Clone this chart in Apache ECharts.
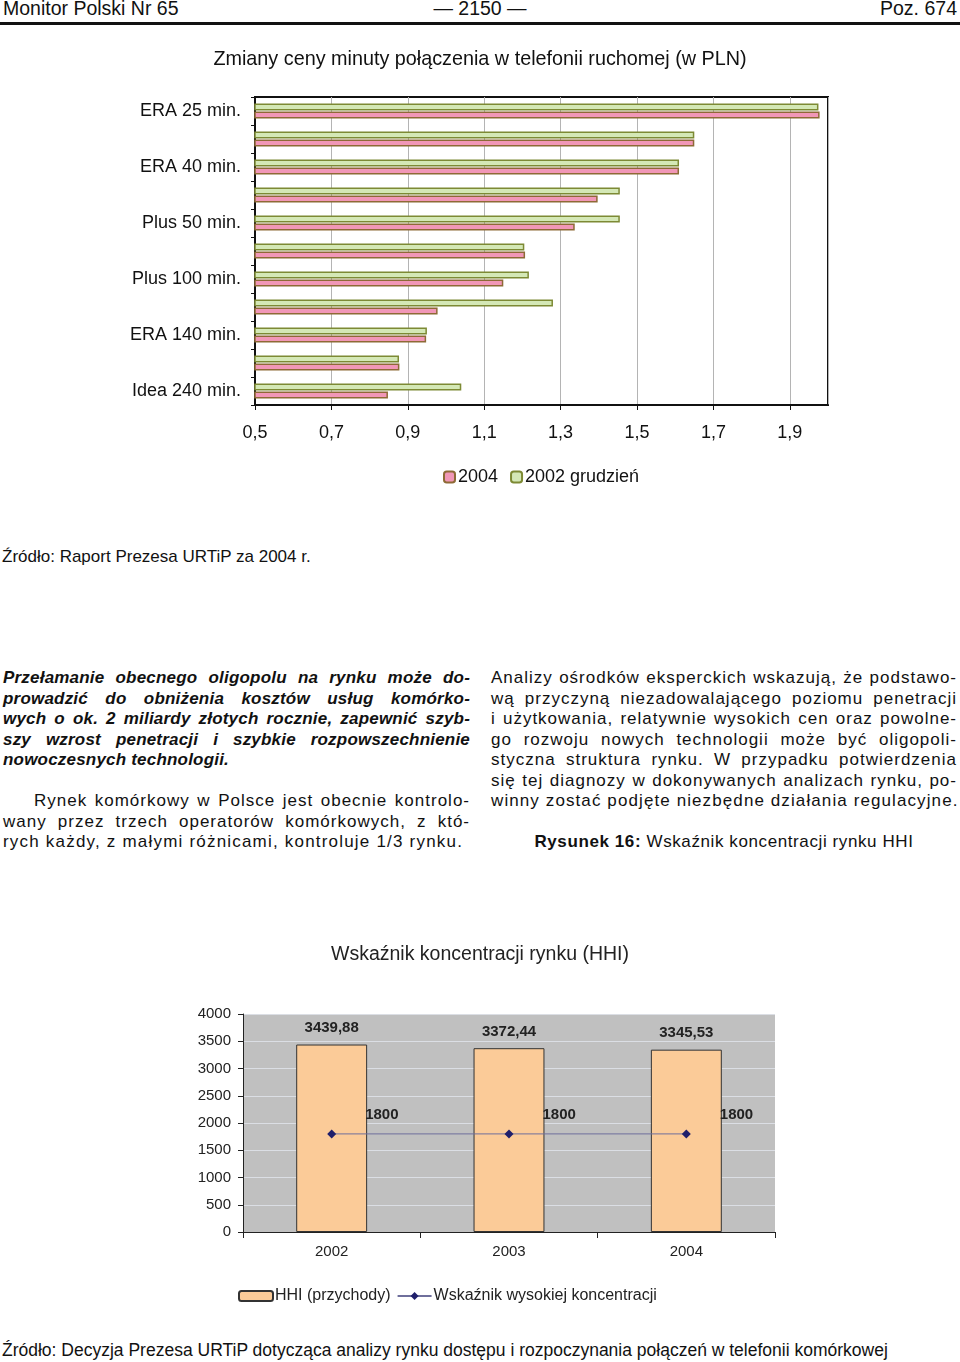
<!DOCTYPE html>
<html>
<head>
<meta charset="utf-8">
<script src="https://cdn.jsdelivr.net/npm/echarts@6/dist/echarts.min.js"></script>
<style>
  html, body { margin: 0; padding: 0; background: #fff; }
  body { width: 960px; height: 1362px; position: relative; font-family: 'Liberation Sans', Arial, sans-serif; color: #111; overflow: hidden; }
  .abs { position: absolute; white-space: nowrap; }
  .rule { position: absolute; left: 0; top: 22px; width: 960px; height: 3px; background: #111; }
  .col { position: absolute; font-size: 17px; line-height: 20.5px; letter-spacing: 1px; }
  .col div { text-align: justify; text-align-last: justify; height: 20.5px; }
  .col div.last { text-align-last: left; white-space: nowrap; }
  .bi { font-weight: bold; font-style: italic; letter-spacing: 0.2px; }
  .chart { position: absolute; left: 0; width: 960px; }
</style>
</head>
<body>
<div class="abs" style="left:3px;top:-3px;font-size:19.5px;">Monitor Polski Nr 65</div>
<div class="abs" style="left:0;width:960px;text-align:center;top:-3px;font-size:19.5px;">— 2150 —</div>
<div class="abs" style="right:3px;top:-3px;font-size:19.5px;">Poz. 674</div>
<div class="rule"></div>

<div id="chart1" class="chart" style="top:36px;height:470px;"></div>

<div class="abs" style="left:2px;top:547px;font-size:17px;">Źródło: Raport Prezesa URTiP za 2004 r.</div>

<div class="col" style="left:3px;top:668px;width:467px;">
  <div class="bi">Przełamanie obecnego oligopolu na rynku może do-</div>
  <div class="bi">prowadzić do obniżenia kosztów usług komórko-</div>
  <div class="bi">wych o ok. 2 miliardy złotych rocznie, zapewnić szyb-</div>
  <div class="bi">szy wzrost penetracji i szybkie rozpowszechnienie</div>
  <div class="bi last">nowoczesnych technologii.</div>
  <div class="last"></div>
  <div style="padding-left:31px;">Rynek komórkowy w Polsce jest obecnie kontrolo-</div>
  <div>wany przez trzech operatorów komórkowych, z któ-</div>
  <div class="last" style="letter-spacing:1.2px;">rych każdy, z małymi różnicami, kontroluje 1/3 rynku.</div>
</div>

<div class="col" style="left:491px;top:668px;width:466px;">
  <div>Analizy ośrodków eksperckich wskazują, że podstawo-</div>
  <div>wą przyczyną niezadowalającego poziomu penetracji</div>
  <div>i użytkowania, relatywnie wysokich cen oraz powolne-</div>
  <div>go rozwoju nowych technologii może być oligopoli-</div>
  <div>styczna struktura rynku. W przypadku potwierdzenia</div>
  <div>się tej diagnozy w dokonywanych analizach rynku, po-</div>
  <div class="last" style="letter-spacing:1.1px;">winny zostać podjęte niezbędne działania regulacyjne.</div>
  <div class="last"></div>
  <div class="last" style="text-align:center;text-align-last:center;letter-spacing:0.6px;"><b>Rysunek 16:</b> Wskaźnik koncentracji rynku HHI</div>
</div>

<div id="chart2" class="chart" style="top:930px;height:390px;"></div>

<div class="abs" style="left:2px;top:1340px;font-size:17.5px;">Źródło: Decyzja Prezesa URTiP dotycząca analizy rynku dostępu i rozpoczynania połączeń w telefonii komórkowej</div>

<script>
// wykres 1: ceny minuty
const minuteCats = ['ERA 25 min.', '', 'ERA 40 min.', '', 'Plus 50 min.', '', 'Plus 100 min.', '', 'ERA 140 min.', '', 'Idea 240 min.']
const price2002 = [1.975, 1.65, 1.61, 1.455, 1.455, 1.205, 1.217, 1.28, 0.95, 0.877, 1.04]
const price2004 = [1.978, 1.65, 1.61, 1.397, 1.337, 1.207, 1.15, 0.978, 0.948, 0.878, 0.848]

// wykres 2: HHI
const hhiYears = ['2002', '2003', '2004']
const hhiValues = [3439.88, 3372.44, 3345.53]
const hhiThreshold = [1800, 1800, 1800]

const font = "'Liberation Sans', Arial, sans-serif"

const chart1 = echarts.init(document.getElementById('chart1'))
chart1.setOption({
  animation: false,
  textStyle: { fontFamily: font },
  title: {
    text: 'Zmiany ceny minuty połączenia w telefonii ruchomej (w PLN)',
    left: 'center',
    top: 9,
    textStyle: { fontSize: 19.8, fontWeight: 'normal', color: '#111', fontFamily: font }
  },
  legend: {
    data: ['2004', '2002 grudzień'],
    left: 438,
    top: 427,
    itemWidth: 11,
    itemHeight: 11,
    itemGap: 12,
    textStyle: { fontSize: 18, color: '#111', fontFamily: font, padding: [0, 0, 0, -2] }
  },
  grid: {
    left: 255,
    right: 132,
    top: 61,
    height: 308,
    show: true,
    borderColor: '#111',
    borderWidth: 2
  },
  xAxis: {
    type: 'value',
    min: 0.5,
    max: 2.0,
    interval: 0.2,
    axisLine: { show: true, lineStyle: { color: '#111', width: 2 } },
    axisTick: { show: true, length: 5, lineStyle: { color: '#111' } },
    axisLabel: {
      color: '#111', fontSize: 18, margin: 19, showMaxLabel: false,
      formatter: v => v.toFixed(1).replace('.', ',')
    },
    splitLine: { show: true, lineStyle: { color: '#b4b4b4', width: 1 } }
  },
  yAxis: {
    type: 'category',
    inverse: true,
    data: minuteCats,
    axisLine: { show: true, lineStyle: { color: '#111', width: 2 } },
    axisTick: { show: true, length: 4, interval: 0, lineStyle: { color: '#111' } },
    axisLabel: { interval: 1, color: '#111', fontSize: 18, margin: 14 }
  },
  series: [
    {
      name: '2002 grudzień',
      type: 'bar',
      data: price2002,
      barWidth: 7,
      barGap: '14%',
      itemStyle: { color: '#d4e8b6', borderColor: '#7d8a34', borderWidth: 1.5 }
    },
    {
      name: '2004',
      type: 'bar',
      data: price2004,
      barWidth: 7,
      barGap: '14%',
      itemStyle: { color: '#f197b7', borderColor: '#8e6a36', borderWidth: 1.5 }
    }
  ]
})

const chart2 = echarts.init(document.getElementById('chart2'))
chart2.setOption({
  animation: false,
  textStyle: { fontFamily: font },
  title: {
    text: 'Wskaźnik koncentracji rynku (HHI)',
    left: 'center',
    top: 10,
    textStyle: { fontSize: 19.5, fontWeight: 'normal', color: '#222', fontFamily: font }
  },
  legend: {
    data: ['HHI (przychody)', 'Wskaźnik wysokiej koncentracji'],
    left: 233,
    top: 353,
    itemWidth: 34,
    itemHeight: 10,
    itemGap: 6,
    textStyle: { fontSize: 16, color: '#222', fontFamily: font, padding: [0, 0, 0, -3] }
  },
  grid: {
    left: 243,
    right: 185,
    top: 84,
    height: 218,
    show: true,
    backgroundColor: '#c0c0c0',
    borderWidth: 0
  },
  xAxis: {
    type: 'category',
    data: hhiYears,
    axisLine: { show: true, lineStyle: { color: '#222', width: 1 } },
    axisTick: { show: true, length: 6, lineStyle: { color: '#222' } },
    axisLabel: { color: '#222', fontSize: 15, margin: 12 }
  },
  yAxis: {
    type: 'value',
    min: 0,
    max: 4000,
    interval: 500,
    axisLine: { show: true, lineStyle: { color: '#222', width: 1 } },
    axisTick: { show: true, length: 5, lineStyle: { color: '#222' } },
    axisLabel: { color: '#222', fontSize: 15, margin: 12, formatter: v => String(v) }
  },
  series: [
    {
      name: 'HHI (przychody)',
      type: 'bar',
      data: hhiValues,
      barWidth: '40%',
      itemStyle: { color: '#fbcb98', borderColor: '#333', borderWidth: 1 },
      label: {
        show: true,
        position: 'top',
        distance: 9,
        color: '#222',
        fontSize: 15,
        fontWeight: 'bold',
        formatter: p => p.value.toFixed(2).replace('.', ',')
      }
    },
    {
      name: 'Wskaźnik wysokiej koncentracji',
      type: 'line',
      data: hhiThreshold,
      symbol: 'diamond',
      symbolSize: 9,
      lineStyle: { color: '#6f6f9c', width: 1 },
      itemStyle: { color: '#1f1f6b' },
      label: {
        show: true,
        position: 'right',
        offset: [24, -19],
        color: '#222',
        fontSize: 15,
        fontWeight: 'bold'
      }
    }
  ]
})
</script>
</body>
</html>
